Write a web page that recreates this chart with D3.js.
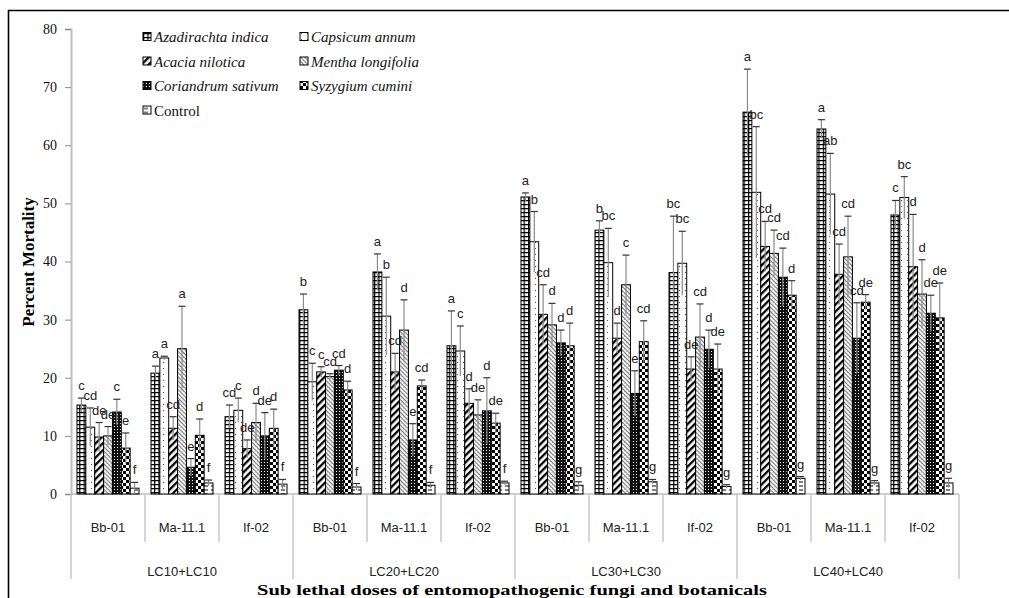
<!DOCTYPE html>
<html>
<head>
<meta charset="utf-8">
<script src="https://cdn.jsdelivr.net/npm/d3@7"></script>
<style>
  body { margin: 0; background: #fff; }
  svg { display: block; }
</style>
</head>
<body>
<svg id="chart" width="1009" height="598"></svg>
<script>
// ---- data ---------------------------------------------------------------
const doses = ["LC10+LC10", "LC20+LC20", "LC30+LC30", "LC40+LC40"];
const isolates = ["Bb-01", "Ma-11.1", "If-02"];
const seriesNames = ["Azadirachta indica", "Capsicum annum", "Acacia nilotica",
  "Mentha longifolia", "Coriandrum sativum", "Syzygium cumini", "Control"];
const yTicks = [0, 10, 20, 30, 40, 50, 60, 70, 80];

// mean percent mortality, one array per treatment across the 12 dose x isolate groups
const azadirachtaIndica = [15.3, 20.8, 13.3, 31.7, 38.2, 25.5, 51.1, 45.4, 38.1, 65.7, 62.8, 48.0];
const capsicumAnnum     = [11.5, 23.4, 14.4, 19.3, 30.6, 24.6, 43.4, 39.8, 39.7, 51.9, 51.6, 51.0];
const acaciaNilotica    = [9.8, 11.3, 7.8, 21.0, 21.0, 15.6, 30.9, 26.8, 21.5, 42.6, 37.8, 39.1];
const menthaLongifolia  = [10.0, 25.0, 12.3, 20.2, 28.2, 13.6, 29.1, 36.0, 27.0, 41.4, 40.8, 34.4];
const coriandrumSativum = [14.1, 4.6, 10.0, 21.3, 9.3, 14.3, 26.0, 17.3, 24.9, 37.3, 26.8, 31.1];
const syzygiumCumini    = [7.9, 10.1, 11.3, 17.9, 18.6, 12.2, 25.5, 26.2, 21.5, 34.2, 33.0, 30.3];
const control           = [1.0, 1.9, 1.7, 1.2, 1.5, 1.9, 1.5, 2.1, 1.3, 2.7, 1.9, 1.9];

// standard errors
const azadirachtaErr = [1.2, 1.2, 2.0, 2.7, 3.1, 6.0, 0.7, 1.6, 9.7, 7.4, 1.6, 2.5];
const capsicumErr    = [3.3, 0.3, 2.1, 3.2, 6.7, 4.3, 5.2, 5.9, 5.5, 11.3, 7.0, 3.6];
const acaciaErr      = [2.5, 2.0, 1.5, 0.9, 3.2, 2.5, 5.1, 2.6, 2.1, 4.3, 5.2, 9.0];
const menthaErr      = [1.6, 7.3, 3.3, 0.5, 5.2, 2.6, 3.7, 5.1, 5.7, 4.0, 7.0, 5.9];
const coriandrumErr  = [2.2, 1.5, 4.0, 0.8, 2.8, 5.7, 2.2, 3.9, 3.3, 5.0, 6.1, 3.1];
const syzygiumErr    = [2.6, 2.8, 3.3, 1.5, 1.0, 1.7, 3.9, 3.6, 4.3, 2.5, 1.3, 6.0];
const controlErr     = [1.0, 0.5, 0.8, 0.6, 0.5, 0.3, 0.6, 0.4, 0.3, 0.3, 0.4, 0.8];

// mean separation letters
const azadirachtaLetters = ["c", "a", "cd", "b", "a", "a", "a", "b", "bc", "a", "a", "c"];
const capsicumLetters    = ["cd", "a", "c", "c", "b", "c", "b", "bc", "bc", "bc", "ab", "bc"];
const acaciaLetters      = ["de", "cd", "de", "c", "cd", "d", "cd", "d", "de", "cd", "cd", "d"];
const menthaLetters      = ["de", "a", "d", "cd", "d", "de", "d", "c", "cd", "cd", "cd", "d"];
const coriandrumLetters  = ["c", "e", "de", "cd", "e", "d", "d", "e", "d", "cd", "cd", "de"];
const syzygiumLetters    = ["e", "d", "d", "d", "cd", "de", "d", "cd", "de", "d", "de", "de"];
const controlLetters     = ["f", "f", "f", "f", "f", "f", "g", "g", "g", "g", "g", "g"];

const seriesValues  = [azadirachtaIndica, capsicumAnnum, acaciaNilotica, menthaLongifolia,
  coriandrumSativum, syzygiumCumini, control];
const seriesErrors  = [azadirachtaErr, capsicumErr, acaciaErr, menthaErr,
  coriandrumErr, syzygiumErr, controlErr];
const seriesLetters = [azadirachtaLetters, capsicumLetters, acaciaLetters, menthaLetters,
  coriandrumLetters, syzygiumLetters, controlLetters];

// ---- layout -------------------------------------------------------------
const svg = d3.select("#chart");
const plot = { left: 71, right: 959, top: 29, bottom: 494 };

svg.append("rect").attr("width", 1009).attr("height", 598).attr("fill", "#fff");

// black frame (top and left edges)
svg.append("path")
  .attr("d", "M8.5,598 V10.5 H1009")
  .attr("fill", "none").attr("stroke", "#000").attr("stroke-width", 1.6);

// ---- hatch patterns, one per treatment ---------------------------------
const defs = svg.append("defs");
function pat(id, w, h, transform) {
  const p = defs.append("pattern").attr("id", id)
    .attr("patternUnits", "userSpaceOnUse").attr("width", w).attr("height", h);
  if (transform) p.attr("patternTransform", transform);
  p.append("rect").attr("width", w).attr("height", h).attr("fill", "#fff");
  return p;
}
// grid
let p = pat("pat0", 4.4, 4);
p.append("path").attr("d", "M0,0.6 H4.4 M0.6,0 V4").attr("stroke", "#000").attr("stroke-width", 1.2);
// sparse dots
p = pat("pat1", 6, 6);
p.append("rect").attr("x", 1).attr("y", 2).attr("width", 1).attr("height", 1).attr("fill", "#555");
// wide upward diagonal
p = pat("pat2", 5, 5, "rotate(45)");
p.append("rect").attr("width", 2.3).attr("height", 5).attr("fill", "#000");
// fine dotted diagonal
p = pat("pat3", 3, 3, "rotate(-45)");
p.append("rect").attr("width", 1).attr("height", 3).attr("fill", "#7a7a7a");
p.append("rect").attr("x", 2).attr("y", 1).attr("width", 1).attr("height", 1).attr("fill", "#bbb");
// dense small check
p = pat("pat4", 3, 3);
p.append("rect").attr("width", 3).attr("height", 3).attr("fill", "#111");
p.append("rect").attr("x", 0).attr("y", 0).attr("width", 1).attr("height", 1).attr("fill", "#fff");
// large checkerboard
p = pat("pat5", 6, 6);
p.append("rect").attr("width", 3).attr("height", 3).attr("fill", "#000");
p.append("rect").attr("x", 3).attr("y", 3).attr("width", 3).attr("height", 3).attr("fill", "#000");
// short horizontal dashes
p = pat("pat6", 7, 4);
p.append("path").attr("d", "M1,2 H5").attr("stroke", "#000").attr("stroke-width", 1);

// ---- scales -------------------------------------------------------------
const groups = d3.range(doses.length * isolates.length);
const x0 = d3.scaleBand().domain(groups).range([plot.left, plot.right]);
const x1 = d3.scaleBand().domain(d3.range(seriesNames.length)).range([6, x0.bandwidth() - 6]);
const y = d3.scaleLinear().domain([0, 80]).range([plot.bottom, plot.top]);

// ---- axes ---------------------------------------------------------------
const yAxis = svg.append("g").attr("transform", `translate(${plot.left},0)`)
  .call(d3.axisLeft(y).tickValues(yTicks).tickSize(6).tickPadding(8));
yAxis.select(".domain").attr("stroke", "#bfbfbf").attr("stroke-width", 2);
yAxis.selectAll(".tick line").attr("stroke", "#8c8c8c");
yAxis.selectAll(".tick text")
  .attr("font-family", "'Liberation Serif', serif").attr("font-size", 14).attr("fill", "#111");

svg.append("line")
  .attr("x1", plot.left).attr("x2", plot.right)
  .attr("y1", plot.bottom).attr("y2", plot.bottom)
  .attr("stroke", "#bfbfbf").attr("stroke-width", 1.5);

// category separators: short between isolates, long between doses
const bounds = d3.range(groups.length + 1).map(i => plot.left + i * x0.bandwidth());
svg.selectAll("line.sep").data(bounds).join("line").attr("class", "sep")
  .attr("x1", d => d).attr("x2", d => d)
  .attr("y1", plot.bottom)
  .attr("y2", (d, i) => i % isolates.length === 0 ? plot.bottom + 85 : plot.bottom + 48)
  .attr("stroke", "#c8c8c8").attr("stroke-width", 1.5);

svg.selectAll("text.iso").data(groups).join("text").attr("class", "iso")
  .attr("x", g => x0(g) + x0.bandwidth() / 2)
  .attr("y", plot.bottom + 38)
  .attr("text-anchor", "middle")
  .attr("font-family", "'Liberation Sans', sans-serif").attr("font-size", 13).attr("fill", "#222")
  .text(g => isolates[g % isolates.length]);

svg.selectAll("text.dose").data(doses).join("text").attr("class", "dose")
  .attr("x", (d, i) => x0(i * isolates.length) + x0.bandwidth() * isolates.length / 2)
  .attr("y", plot.bottom + 82)
  .attr("text-anchor", "middle")
  .attr("font-family", "'Liberation Sans', sans-serif").attr("font-size", 13).attr("fill", "#222")
  .text(d => d);

// axis titles
svg.append("text")
  .attr("x", 512).attr("y", 594.5)
  .attr("text-anchor", "middle")
  .attr("font-family", "'Liberation Serif', serif").attr("font-weight", "bold")
  .attr("font-size", 15).attr("fill", "#000")
  .attr("textLength", 510).attr("lengthAdjust", "spacingAndGlyphs")
  .text("Sub lethal doses of entomopathogenic fungi and botanicals");

svg.append("text")
  .attr("transform", "translate(34,262) rotate(-90)")
  .attr("text-anchor", "middle")
  .attr("font-family", "'Liberation Serif', serif").attr("font-weight", "bold")
  .attr("font-size", 17).attr("fill", "#000")
  .text("Percent Mortality");

// ---- bars, error bars, letters ----------------------------------------
const cells = [];
groups.forEach(g => seriesNames.forEach((s, k) => cells.push({
  g, k, v: seriesValues[k][g], e: seriesErrors[k][g], letter: seriesLetters[k][g]
})));
const cx = d => x0(d.g) + x1(d.k) + x1.bandwidth() / 2;

svg.append("g").selectAll("rect").data(cells).join("rect")
  .attr("x", d => x0(d.g) + x1(d.k))
  .attr("y", d => y(d.v))
  .attr("width", x1.bandwidth())
  .attr("height", d => y(0) - y(d.v))
  .attr("fill", d => `url(#pat${d.k})`)
  .attr("stroke", "#000").attr("stroke-width", 1);

const eb = svg.append("g");
eb.selectAll("line.v").data(cells).join("line").attr("class", "v")
  .attr("x1", cx).attr("x2", cx)
  .attr("y1", d => y(Math.max(0, d.v - d.e))).attr("y2", d => y(d.v + d.e))
  .attr("stroke", "#8a8a8a").attr("stroke-width", 1.2);
eb.selectAll("line.cap").data(cells).join("line").attr("class", "cap")
  .attr("x1", d => cx(d) - 3.5).attr("x2", d => cx(d) + 3.5)
  .attr("y1", d => y(d.v + d.e)).attr("y2", d => y(d.v + d.e))
  .attr("stroke", "#333").attr("stroke-width", 1.2);

svg.append("g").selectAll("text").data(cells).join("text")
  .attr("x", cx)
  .attr("y", d => y(d.v + d.e) - 8)
  .attr("text-anchor", "middle")
  .attr("font-family", "'Liberation Sans', sans-serif").attr("font-size", 13).attr("fill", "#222")
  .text(d => d.letter);

// ---- legend -------------------------------------------------------------
const legend = svg.append("g");
const legItems = legend.selectAll("g").data(seriesNames).join("g")
  .attr("transform", (d, i) => `translate(${i % 2 === 0 ? 143 : 300},${37 + Math.floor(i / 2) * 24.5})`);
legItems.append("rect")
  .attr("x", 0).attr("y", -4.5).attr("width", 8).attr("height", 8)
  .attr("fill", (d, i) => `url(#pat${i})`).attr("stroke", "#000").attr("stroke-width", 1);
legItems.append("text")
  .attr("x", 11).attr("y", 5)
  .attr("font-family", "'Liberation Serif', serif")
  .attr("font-style", (d, i) => i === 6 ? "normal" : "italic")
  .attr("font-size", 15).attr("fill", "#111")
  .text(d => d);
</script>
</body>
</html>
